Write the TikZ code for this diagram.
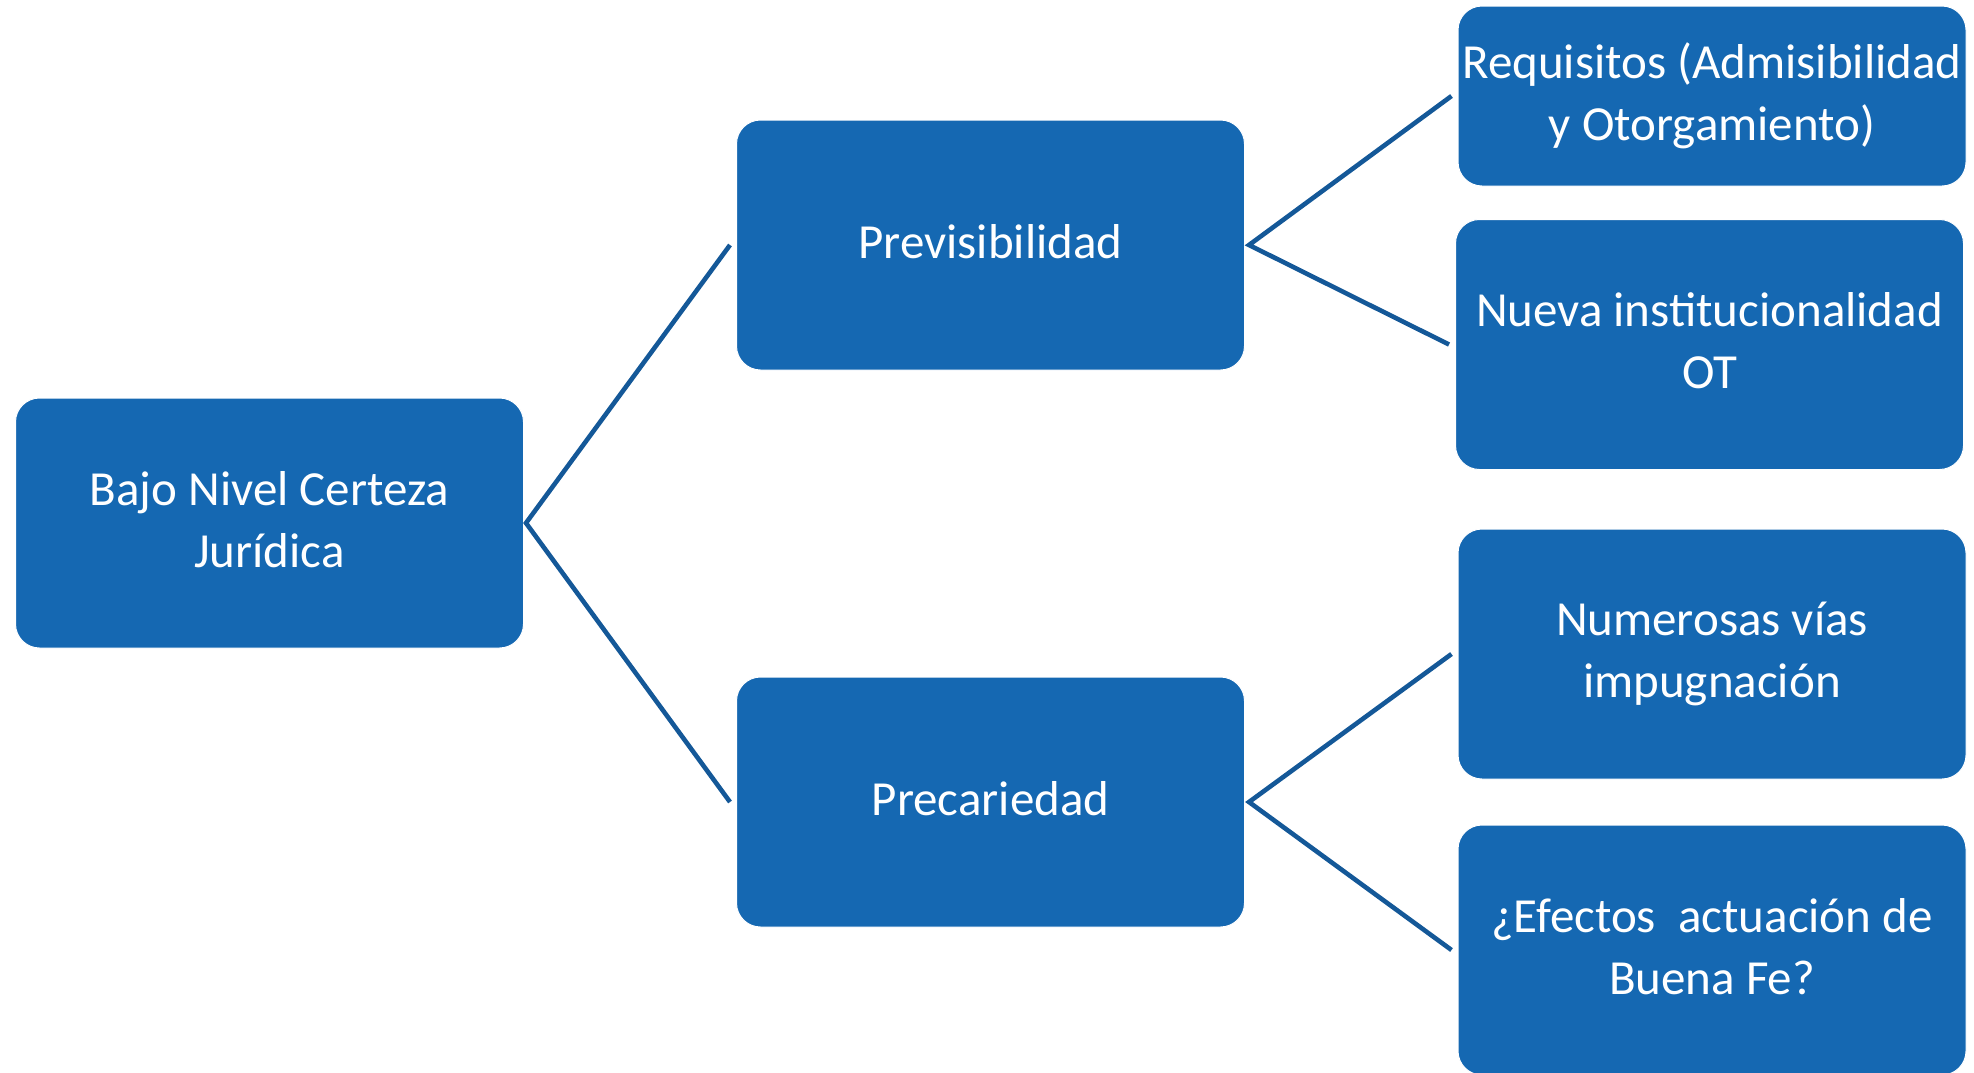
\documentclass[tikz,border=0pt]{standalone}
\usepackage{fontspec}
\setmainfont{Carlito}
\definecolor{boxblue}{RGB}{21,104,178}
\definecolor{lineblue}{RGB}{20,88,152}

\begin{document}
\begin{tikzpicture}[x=0.5pt,y=-0.5pt,
    item/.style={fill=boxblue,draw=white,line width=0.5pt,rounded corners=12pt,
      text=white,align=center,inner sep=0pt,minimum width=254pt,minimum height=125pt,
      text depth=4pt,font=\fontsize{24.5pt}{31pt}\selectfont},
    link/.style={lineblue,line width=2.3pt}]
  \clip (0,0) rectangle (1974,1072);
  % boxes
  \node[item] (root) at (269.5,523) {Bajo Nivel Certeza\\Jurídica};
  \node[item] (prev) at (990.5,245) {Previsibilidad};
  \node[item] (prec) at (990.5,802) {Precariedad};
  \node[item,minimum height=90pt] (req) at (1712,96) {Requisitos (Admisibilidad\\y Otorgamiento)};
  \node[item] (inst) at (1709.5,344.5) {Nueva institucionalidad\\OT};
  \node[item] (vias) at (1712,654) {Numerosas vías\\impugnación};
  \node[item] (fe) at (1712,950) {¿Efectos\ \ actuación de\\Buena Fe?};
  % connectors
  \draw[link] ([xshift=-3pt]prev.west) -- ([xshift=1pt]root.east) -- ([xshift=-3pt]prec.west);
  \draw[link] ([xshift=-3pt]req.west) -- ([xshift=2pt]prev.east) -- ([xshift=-3pt]inst.west);
  \draw[link] ([xshift=-3pt]vias.west) -- ([xshift=2pt]prec.east) -- ([xshift=-3pt]fe.west);
\end{tikzpicture}
\end{document}
